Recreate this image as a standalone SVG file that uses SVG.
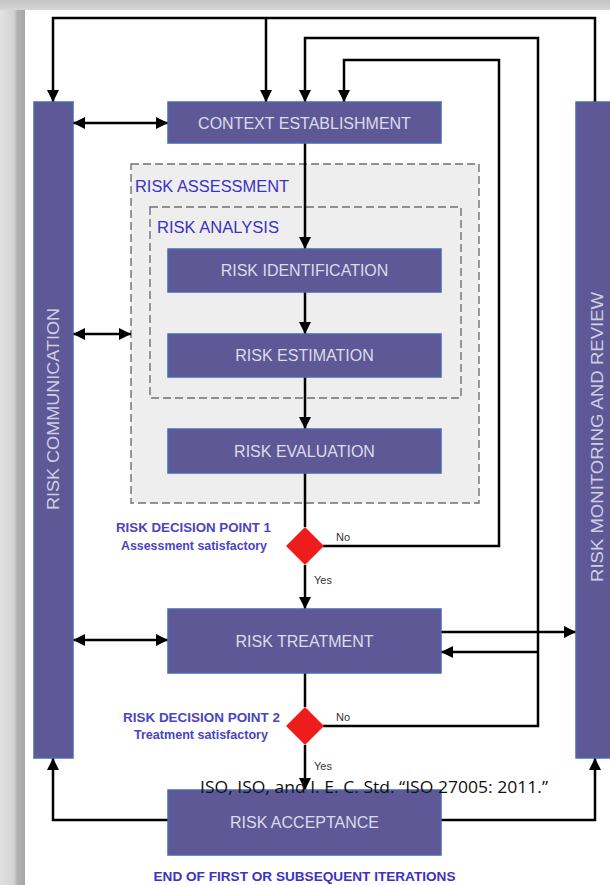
<svg xmlns="http://www.w3.org/2000/svg" width="610" height="885" viewBox="0 0 610 885">
<defs>
<linearGradient id="lg" x1="0" y1="0" x2="1" y2="0">
<stop offset="0" stop-color="#e2e2e2"/>
<stop offset="0.55" stop-color="#d2d2d2"/>
<stop offset="0.7" stop-color="#b0b0b0"/>
<stop offset="1" stop-color="#a6a6a6"/>
</linearGradient>
<linearGradient id="tg" x1="0" y1="0" x2="0" y2="1">
<stop offset="0" stop-color="#c4c4c4"/>
<stop offset="1" stop-color="#d6d6d6"/>
</linearGradient>
<marker id="ah" viewBox="0 0 12 12" refX="12" refY="6" markerWidth="12" markerHeight="12" markerUnits="userSpaceOnUse" orient="auto-start-reverse">
<path d="M0,0 L12,6 L0,12 z" fill="#000"/>
</marker>
</defs>
<style>
.box{fill:#5f5896;stroke:#4868b0;stroke-width:1.5}
.bt{font-family:"Liberation Sans",Arial,sans-serif;font-size:16px;fill:#dcdcea;text-anchor:middle;dominant-baseline:central}
.vt{font-family:"Liberation Sans",Arial,sans-serif;font-size:16px;fill:#cfcfe4;text-anchor:middle;dominant-baseline:central}
.lbl{font-family:"Liberation Sans",Arial,sans-serif;fill:#3c32c4}
.dl{font-family:"Liberation Sans",Arial,sans-serif;font-size:13px;font-weight:bold;fill:#4a44c2;text-anchor:end}
.yn{font-family:"Liberation Sans",Arial,sans-serif;font-size:11px;fill:#333}
.c{fill:none;stroke:#000;stroke-width:2.5}
.ca{fill:none;stroke:#000;stroke-width:2.5;marker-end:url(#ah)}
.cd{fill:none;stroke:#000;stroke-width:2.5;marker-start:url(#ah);marker-end:url(#ah)}
.dash{fill:#eeeeee;stroke:#707070;stroke-width:1.4;stroke-dasharray:8 4}
.dia{fill:#ee1c1c}
</style>
<rect x="0" y="0" width="610" height="885" fill="#ffffff"/>
<rect x="0" y="0" width="25" height="885" fill="url(#lg)"/>
<rect x="0" y="0" width="610" height="10" fill="url(#tg)"/>

<g id="risk-assessment">
<rect class="dash" x="131" y="164" width="348" height="339"/>
<text class="lbl" x="135" y="192" font-size="16" textLength="154" lengthAdjust="spacingAndGlyphs">RISK ASSESSMENT</text>
</g>
<g id="risk-analysis">
<rect class="dash" x="150" y="207" width="311" height="191"/>
<text class="lbl" x="157" y="233" font-size="16" textLength="122" lengthAdjust="spacingAndGlyphs">RISK ANALYSIS</text>
</g>

<g id="connectors">
<path class="ca" d="M595,103 V18 H53 V102"/>
<path class="ca" d="M266,18 V102"/>
<path class="ca" d="M323,726 H538 V38 H305 V102"/>
<path class="ca" d="M323,546 H499 V60 H344 V102"/>
<path class="ca" d="M538,652 H441"/>
<path class="ca" d="M441,632 H576"/>
<path class="cd" d="M73,123 H168"/>
<path class="cd" d="M73,334 H131"/>
<path class="cd" d="M73,640 H168"/>
<path class="ca" d="M305,143 V249"/>
<path class="ca" d="M305,292 V334"/>
<path class="ca" d="M305,377 V429"/>
<path class="c" d="M305,473 V527"/>
<path class="ca" d="M305,565 V609"/>
<path class="c" d="M305,673 V707"/>
<path class="ca" d="M305,745 V790"/>
<path class="ca" d="M168,820 H53 V758"/>
<path class="ca" d="M441,820 H595 V758"/>
</g>

<g id="risk-communication">
<rect class="box" x="34" y="102" width="39" height="656"/>
<text class="vt" transform="translate(53,409) rotate(-90)" textLength="202" lengthAdjust="spacingAndGlyphs">RISK COMMUNICATION</text>
</g>
<g id="risk-monitoring">
<rect class="box" x="576" y="102" width="40" height="656"/>
<text class="vt" transform="translate(597,437) rotate(-90)" textLength="290" lengthAdjust="spacingAndGlyphs">RISK MONITORING AND REVIEW</text>
</g>

<g id="context-establishment">
<rect class="box" x="168" y="102" width="273" height="41"/>
<text class="bt" x="304.5" y="123">CONTEXT ESTABLISHMENT</text>
</g>
<g id="risk-identification">
<rect class="box" x="168" y="249" width="273" height="43"/>
<text class="bt" x="304.5" y="270.5">RISK IDENTIFICATION</text>
</g>
<g id="risk-estimation">
<rect class="box" x="168" y="334" width="273" height="43"/>
<text class="bt" x="304.5" y="355.5">RISK ESTIMATION</text>
</g>
<g id="risk-evaluation">
<rect class="box" x="168" y="429" width="273" height="44"/>
<text class="bt" x="304.5" y="451">RISK EVALUATION</text>
</g>

<g id="decision-1">
<polygon class="dia" points="305,527 324,546 305,565 286,546"/>
<text class="dl" x="271" y="532" textLength="155" lengthAdjust="spacingAndGlyphs">RISK DECISION POINT 1</text>
<text class="dl" x="267" y="550" textLength="146" lengthAdjust="spacingAndGlyphs">Assessment satisfactory</text>
<text class="yn" x="336" y="541">No</text>
<text class="yn" x="314" y="584">Yes</text>
</g>

<g id="risk-treatment">
<rect class="box" x="168" y="609" width="273" height="64"/>
<text class="bt" x="304.5" y="641">RISK TREATMENT</text>
</g>

<g id="decision-2">
<polygon class="dia" points="305,707 324,726 305,745 286,726"/>
<text class="dl" x="280" y="722" textLength="157" lengthAdjust="spacingAndGlyphs">RISK DECISION POINT 2</text>
<text class="dl" x="268" y="739" textLength="134" lengthAdjust="spacingAndGlyphs">Treatment satisfactory</text>
<text class="yn" x="336" y="721">No</text>
<text class="yn" x="314" y="770">Yes</text>
</g>

<g id="risk-acceptance">
<rect class="box" x="168" y="790" width="273" height="65"/>
<text class="bt" x="304.5" y="822">RISK ACCEPTANCE</text>
</g>

<text class="lbl" x="304.5" y="881" font-size="13" font-weight="bold" text-anchor="middle" textLength="302" lengthAdjust="spacingAndGlyphs">END OF FIRST OR SUBSEQUENT ITERATIONS</text>

<text x="200" y="793" font-family="'Open Sans','Liberation Sans',sans-serif" font-size="17" fill="#111" textLength="348" lengthAdjust="spacingAndGlyphs">ISO, ISO, and I. E. C. Std. “ISO 27005: 2011.”</text>
</svg>
